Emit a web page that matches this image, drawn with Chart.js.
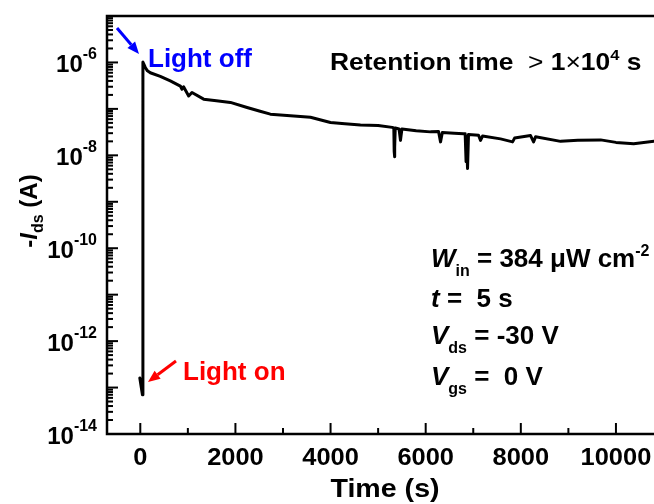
<!DOCTYPE html>
<html lang="en">
<head>
<meta charset="UTF-8">
<title>Photocurrent retention</title>
<script src="https://cdn.jsdelivr.net/npm/chart.js@4"></script>
<style>
  html, body { margin: 0; padding: 0; background: #fff; }
  canvas { display: block; }
</style>
</head>
<body>
<canvas id="retention" width="654" height="504"></canvas>
<script>
// Drain current after a 5 s light pulse, logged over ~3 hours
const timeS = [
  -10, 45, 55, 105, 150, 210, 420, 631, 842, 877, 910, 1017, 1086, 1332, 1600, 1894, 2245,
  2500, 2735, 3156, 3577, 3998, 4300, 4629, 5000, 5296, 5330, 5338, 5344, 5352, 5360, 5440, 5470, 5500,
  5800, 6101, 6270, 6312, 6350, 6600, 6796, 6830, 6849, 6862, 6870, 6880, 6900, 7111, 7153,
  7195, 7574, 7827, 7869, 8205, 8268, 8310, 8837, 9200, 9678, 10000, 10373, 10800
];
const currentA = [
  1.6e-13, 7e-14, 1.02e-6, 7.8e-7, 6.6e-7, 6.0e-7, 5.0e-7, 4.0e-7, 3.1e-7, 2.65e-7, 3.0e-7, 1.9e-7, 2.25e-7, 1.62e-7, 1.5e-7, 1.38e-7, 1.07e-7,
  9.0e-8, 7.7e-8, 7.1e-8, 6.6e-8, 5.1e-8, 4.8e-8, 4.5e-8, 4.4e-8, 4.0e-8, 3.9e-8, 1.2e-8, 9.3e-9, 1.5e-8, 3.9e-8, 3.7e-8, 2.1e-8, 3.7e-8,
  3.4e-8, 3.2e-8, 3.25e-8, 1.95e-8, 3.1e-8, 3.0e-8, 2.9e-8, 2.9e-8, 7.3e-9, 2.6e-8, 1.0e-8, 5.2e-9, 2.8e-8, 2.7e-8, 2.1e-8,
  2.6e-8, 2.26e-8, 1.95e-8, 2.35e-8, 2.66e-8, 1.95e-8, 2.5e-8, 2.0e-8, 2.1e-8, 2.15e-8, 1.9e-8, 1.78e-8, 2.0e-8
];

// axis ticks
const xMajorTicks = [0, 2000, 4000, 6000, 8000, 10000];
const xMinorTicks = [1000, 3000, 5000, 7000, 9000];
const yDecades = [-14, -13, -12, -11, -10, -9, -8, -7, -6, -5];
const yLabelDecades = [-14, -12, -10, -8, -6];
const yMinorSteps = [2, 3, 4, 5, 6, 7, 8, 9];

const FAM = '"Liberation Sans", Arial, sans-serif';
const font = (size, style) => (style || 'bold') + ' ' + size + 'px ' + FAM;

// draw a run of text pieces (sub/superscripts, mixed styles) on one baseline
function drawRich (ctx, parts, x, y, align, sx) {
  sx = sx || 1;
  let w = 0;
  for (const p of parts) { ctx.font = p.font; w += ctx.measureText(p.text).width; }
  const start = align === 'right' ? x - w * sx : align === 'center' ? x - w * sx / 2 : x;
  ctx.save();
  ctx.translate(start, y);
  ctx.scale(sx, 1);
  let cx = 0;
  for (const p of parts) {
    ctx.font = p.font;
    ctx.fillText(p.text, cx, p.dy || 0);
    cx += ctx.measureText(p.text).width;
  }
  ctx.restore();
}

function arrow (ctx, x1, y1, x2, y2, color) {
  const a = Math.atan2(y2 - y1, x2 - x1);
  const len = 12, half = 5;
  const bx = x2 - len * Math.cos(a), by = y2 - len * Math.sin(a);
  ctx.save();
  ctx.strokeStyle = color;
  ctx.fillStyle = color;
  ctx.lineWidth = 3;
  ctx.beginPath();
  ctx.moveTo(x1, y1);
  ctx.lineTo(bx, by);
  ctx.stroke();
  ctx.beginPath();
  ctx.moveTo(x2, y2);
  ctx.lineTo(bx + half * Math.sin(a), by - half * Math.cos(a));
  ctx.lineTo(bx - half * Math.sin(a), by + half * Math.cos(a));
  ctx.closePath();
  ctx.fill();
  ctx.restore();
}

// frame, inward ticks, labels and annotations
const decorations = {
  id: 'decorations',
  afterDraw (chart) {
    const { ctx, chartArea: area, scales } = chart;
    const xs = scales.x, ys = scales.y;
    ctx.save();
    ctx.strokeStyle = '#000';
    ctx.fillStyle = '#000';
    ctx.textBaseline = 'alphabetic';
    ctx.textAlign = 'left';

    // frame: left, top, bottom
    ctx.lineWidth = 2.5;
    ctx.lineCap = 'square';
    ctx.beginPath();
    ctx.moveTo(area.right + 2, area.top);
    ctx.lineTo(area.left, area.top);
    ctx.lineTo(area.left, area.bottom);
    ctx.lineTo(area.right + 2, area.bottom);
    ctx.stroke();

    ctx.lineWidth = 2;
    ctx.lineCap = 'butt';
    for (const t of xs.ticks) {
      const px = xs.getPixelForValue(t.value);
      const len = t.major ? 11 : 6;
      ctx.beginPath();
      ctx.moveTo(px, area.bottom);
      ctx.lineTo(px, area.bottom - len);
      ctx.stroke();
    }
    for (const t of ys.ticks) {
      const py = ys.getPixelForValue(t.value);
      const len = t.major ? 11 : 6;
      ctx.beginPath();
      ctx.moveTo(area.left, py);
      ctx.lineTo(area.left + len, py);
      ctx.stroke();
    }

    // tick labels
    for (const v of xMajorTicks) {
      drawRich(ctx, [{ text: String(v), font: font(24) }], xs.getPixelForValue(v), 465, 'center', 1.06);
    }
    for (const e of yLabelDecades) {
      const py = ys.getPixelForValue(Math.pow(10, e));
      drawRich(ctx, [
        { text: '10', font: font(24) },
        { text: String(e), font: font(16), dy: -13 }
      ], 97, py + 9.5, 'right');
    }

    // axis titles
    drawRich(ctx, [{ text: 'Time (s)', font: font(26) }], 385, 497, 'center', 1.1);
    ctx.save();
    ctx.translate(37, 211);
    ctx.rotate(-Math.PI / 2);
    drawRich(ctx, [
      { text: '-', font: font(24) },
      { text: 'I', font: font(24, 'italic bold') },
      { text: 'ds', font: font(16), dy: 6 },
      { text: ' (A)', font: font(24) }
    ], 0, 0, 'center');
    ctx.restore();

    // annotations
    drawRich(ctx, [
      { text: 'Retention time  ', font: font(24) },
      { text: '>', font: font(24, 'normal') },
      { text: ' 1', font: font(24) },
      { text: '\u00d7', font: font(24, 'normal') },
      { text: '10', font: font(24) },
      { text: '4', font: font(15), dy: -10 },
      { text: ' s', font: font(24) }
    ], 330, 70, 'left', 1.1);

    drawRich(ctx, [
      { text: 'W', font: font(26, 'italic bold') },
      { text: 'in', font: font(16), dy: 9 },
      { text: ' = 384 \u03bcW cm', font: font(26) },
      { text: '-2', font: font(16), dy: -11 }
    ], 431, 267, 'left');
    drawRich(ctx, [
      { text: 't', font: font(26, 'italic bold') },
      { text: ' =  5 s', font: font(26) }
    ], 431, 307, 'left');
    drawRich(ctx, [
      { text: 'V', font: font(26, 'italic bold') },
      { text: 'ds', font: font(16), dy: 9 },
      { text: ' = -30 V', font: font(26) }
    ], 431, 344, 'left');
    drawRich(ctx, [
      { text: 'V', font: font(26, 'italic bold') },
      { text: 'gs', font: font(16), dy: 9 },
      { text: ' =  0 V', font: font(26) }
    ], 431, 385, 'left');

    ctx.fillStyle = '#0000ff';
    drawRich(ctx, [{ text: 'Light off', font: font(26) }], 148, 67, 'left');
    arrow(ctx, 117, 28, 139, 54, '#0000ff');
    ctx.fillStyle = '#ff0000';
    drawRich(ctx, [{ text: 'Light on', font: font(26) }], 183, 380, 'left');
    arrow(ctx, 176, 361, 148, 382, '#ff0000');

    ctx.restore();
  }
};

const points = timeS.map((t, i) => ({ x: t, y: currentA[i] }));

const yTickList = [];
yDecades.forEach(e => {
  yTickList.push({ value: Math.pow(10, e), major: true });
  if (e < -5) yMinorSteps.forEach(m => yTickList.push({ value: m * Math.pow(10, e), major: false }));
});
const xTickList = xMajorTicks.map(v => ({ value: v, major: true }))
  .concat(xMinorTicks.map(v => ({ value: v, major: false })));

const hidden = {
  grid: { display: false, drawTicks: false },
  border: { display: false },
  ticks: { display: false }
};

new Chart(document.getElementById('retention'), {
  type: 'line',
  data: {
    datasets: [{
      data: points,
      borderColor: '#000',
      borderWidth: 3,
      borderJoinStyle: 'round',
      borderCapStyle: 'round',
      pointRadius: 0,
      tension: 0,
      fill: false
    }]
  },
  options: {
    responsive: false,
    animation: false,
    devicePixelRatio: 1,
    layout: { padding: { left: 107, top: 16, right: 0, bottom: 70 } },
    plugins: { legend: { display: false }, tooltip: { enabled: false } },
    scales: {
      x: {
        type: 'linear',
        min: -700,
        max: 10800,
        ...hidden,
        afterBuildTicks: s => { s.ticks = xTickList; }
      },
      y: {
        type: 'logarithmic',
        min: 1e-14,
        max: 1e-5,
        ...hidden,
        afterBuildTicks: s => { s.ticks = yTickList; }
      }
    }
  },
  plugins: [decorations]
});
</script>
</body>
</html>
